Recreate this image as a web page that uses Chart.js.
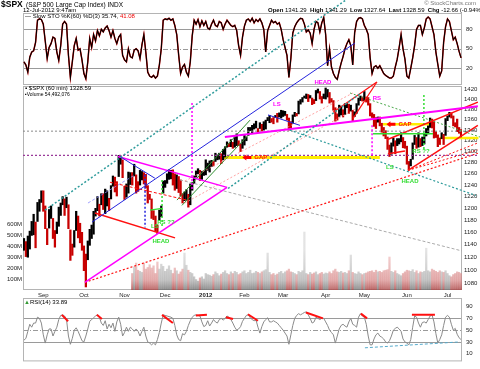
<!DOCTYPE html>
<html>
<head>
<meta charset="utf-8">
<script src="https://cdn.jsdelivr.net/npm/chart.js@4.4.1/dist/chart.umd.min.js"></script>
<style>
  body { margin: 0; background: #fff; }
  #wrap { position: relative; width: 480px; height: 369px; overflow: hidden; font-family: "Liberation Sans", Arial, sans-serif; color: #000; }
  #wrap canvas { position: absolute; left: 0; top: 0; }
  .txt { position: absolute; white-space: nowrap; font-size: 6px; line-height: 7px; }
</style>
</head>
<body>
<div id="wrap">
  <canvas id="stoChart" width="480" height="369"></canvas>
  <canvas id="rsiChart" width="480" height="369"></canvas>
  <canvas id="priceChart" width="480" height="369"></canvas>

  <div class="txt" style="left:1px;top:-1px;font-size:8.5px;line-height:10px;font-weight:bold">$SPX</div>
  <div class="txt" style="left:26px;top:1px;font-size:6.5px">(S&amp;P 500 Large Cap Index) INDX</div>
  <div class="txt" style="left:23px;top:7px">12-Jul-2012 9:47am</div>
  <div class="txt" style="left:268px;top:7px"><b>Open</b> 1341.29 &nbsp;<b>High</b> 1341.29 &nbsp;<b>Low</b> 1327.64 &nbsp;<b>Last</b> 1328.59 &nbsp;<b>Chg</b> -12.66 (-0.94%) <span style="color:#d00">&#9662;</span></div>
  <div class="txt" style="right:4px;top:0px;color:#777">&copy; StockCharts.com</div>
  <div class="txt" style="left:25px;top:13px">&#8212; Slow STO %K(60) %D(3) 35.74, <span style="color:#e00">41.08</span></div>
  <div class="txt" style="left:25px;top:85px">&#9642; $SPX (60 min) 1328.59</div>
  <div class="txt" style="left:25px;top:91px;font-size:5px">&#9642;Volume 54,492,076</div>
  <div class="txt" style="left:24px;top:299px"><span style="color:#393">&#9650;</span>RSI(14) 33.89</div>
</div>

<script>
const FONT = '"Liberation Sans", Arial, sans-serif';

// one entry per trading day, 18-Aug-2011 .. 12-Jul-2012
const dayLow = [
  1131,1121,1120,1133,1155,1156,1135,1178,1195,1210,
  1195,1166,1140,1167,1183,1150,1136,1158,1170,1188,
  1206,1188,1201,1166,1115,1123,1136,1163,1151,1143,
  1131,1099,1074,1116,1139,1150,1157,1187,1196,1187,
  1206,1198,1191,1204,1196,1216,1238,1228,1221,1255,
  1277,1253,1215,1219,1226,1241,1240,1256,1226,1229,
  1240,1249,1242,1235,1209,1215,1183,1181,1161,1158,
  1180,1186,1226,1236,1243,1250,1251,1240,1231,1234,
  1227,1221,1209,1213,1215,1202,1206,1231,1243,1254,
  1260,1248,1250,1257,1258,1266,1263,1273,1274,1282,
  1285,1286,1278,1285,1290,1308,1309,1309,1306,1308,
  1311,1311,1300,1306,1312,1320,1330,1339,1335,1342,
  1344,1336,1343,1338,1340,1342,1358,1354,1355,1352,
  1364,1355,1365,1363,1366,1368,1359,1340,1344,1353,
  1366,1367,1371,1390,1394,1402,1401,1395,1402,1389,
  1391,1397,1412,1400,1392,1401,1400,1404,1392,1394,
  1378,1357,1359,1366,1369,1365,1370,1383,1372,1376,
  1358,1366,1372,1388,1397,1396,1397,1394,1388,1367,
  1364,1347,1343,1355,1348,1336,1329,1324,1304,1291,
  1295,1310,1296,1311,1314,1318,1307,1306,1277,1267,
  1274,1286,1313,1306,1308,1309,1311,1314,1329,1333,
  1345,1344,1325,1326,1309,1313,1324,1313,1330,1358,
  1365,1363,1348,1346,1337,1334,1327
];
const dayHigh = [
  1150,1145,1154,1162,1178,1190,1177,1210,1215,1230,
  1230,1204,1166,1198,1204,1183,1163,1177,1202,1209,
  1220,1216,1219,1206,1164,1141,1163,1195,1187,1175,
  1160,1138,1125,1146,1165,1172,1195,1200,1220,1207,
  1225,1225,1233,1230,1217,1239,1256,1254,1246,1293,
  1292,1285,1238,1242,1263,1262,1262,1277,1258,1246,
  1266,1264,1262,1259,1239,1224,1216,1196,1187,1172,
  1197,1204,1247,1248,1260,1267,1266,1267,1260,1258,
  1255,1249,1225,1228,1232,1224,1242,1245,1256,1265,
  1269,1266,1264,1265,1285,1279,1283,1284,1282,1297,
  1294,1297,1296,1304,1309,1318,1315,1322,1317,1328,
  1333,1320,1314,1322,1330,1327,1345,1345,1349,1352,
  1357,1343,1354,1351,1356,1359,1364,1368,1362,1364,
  1368,1372,1373,1378,1377,1376,1370,1363,1356,1369,
  1374,1372,1396,1399,1403,1406,1410,1409,1407,1402,
  1399,1417,1420,1415,1405,1410,1422,1419,1413,1401,
  1397,1383,1371,1388,1386,1379,1391,1391,1390,1388,
  1378,1375,1391,1402,1406,1404,1415,1404,1403,1391,
  1373,1370,1364,1365,1365,1353,1345,1339,1327,1312,
  1316,1325,1320,1324,1324,1335,1326,1319,1310,1282,
  1286,1316,1330,1326,1335,1324,1327,1333,1343,1348,
  1363,1361,1356,1337,1331,1325,1335,1332,1362,1367,
  1374,1373,1367,1354,1361,1345,1341
];

// volume (millions), available from trading day 56 onwards
const volumeFirstDay = 56;
const volume = [
  150,210,245,180,170,160,245,190,205,230,
  200,220,150,255,190,235,215,170,190,220,
  180,150,200,175,145,165,190,336,225,180,
  160,150,120,95,80,110,120,100,150,140,
  135,125,140,165,150,130,145,160,175,150,
  140,165,150,170,160,140,150,165,175,150,
  160,180,150,155,170,160,150,165,175,185,
  336,160,140,150,135,145,160,170,150,165,
  175,190,165,160,150,140,170,160,175,527,
  150,140,160,145,155,165,140,150,160,145,
  155,150,165,150,175,190,165,160,170,155,
  160,150,175,318,160,150,145,165,150,140,
  150,155,165,170,175,160,180,165,170,160,
  175,180,185,300,170,160,175,150,140,130,
  150,165,180,175,170,185,160,175,150,165,
  160,170,380,175,165,190,180,170,160,175,
  165,160,175,150,130,120,140,150,165,160,
  150
];

const stoK = [
  30,25,14,37,45,47,60,94,96,95,
  88,62,35,52,58,68,66,45,32,55,
  88,92,88,40,6,30,55,66,48,50,
  33,12,4,30,66,52,72,62,78,70,
  80,76,82,85,78,68,78,66,58,68,
  72,40,33,30,50,38,36,48,50,47,
  35,56,72,45,14,8,6,9,5,8,
  25,50,94,96,95,97,94,96,86,72,
  40,12,22,26,14,8,30,70,94,88,
  95,84,93,86,92,82,80,88,94,86,
  84,92,90,80,88,94,90,86,84,86,
  78,55,40,68,85,94,96,92,97,90,
  95,92,96,90,80,45,78,86,94,90,
  92,88,90,80,64,52,40,6,35,74,
  84,90,94,97,96,88,76,79,74,58,
  80,92,90,76,90,98,72,24,50,22,
  12,6,3,16,28,38,50,58,64,55,
  25,75,92,97,98,96,86,80,72,36,
  12,22,24,20,24,18,12,9,7,5,
  5,8,22,34,52,72,50,34,8,5,
  20,36,55,80,86,86,72,82,96,99,
  96,84,72,45,26,8,16,60,84,96,
  92,78,64,68,58,46,36
];

const rsi = [
  33,36,48,60,55,62,62,72,70,62,
  42,28,42,52,52,40,48,55,68,75,
  76,74,68,40,26,36,50,54,48,40,
  32,30,40,52,65,68,71,74,76,72,
  62,58,66,52,60,54,62,48,64,72,
  60,40,46,55,48,55,52,48,52,48,
  40,48,55,40,30,28,25,28,25,34,
  46,62,76,75,74,73,72,70,58,42,
  34,32,44,42,48,58,66,72,75,76,
  75,74,64,56,58,66,57,62,68,64,
  62,68,70,67,70,74,72,68,62,55,
  50,52,56,65,70,75,76,71,68,66,
  67,55,45,56,64,68,71,64,64,66,
  64,62,58,54,50,45,40,26,42,58,
  70,75,78,76,78,80,81,76,70,62,
  64,72,70,68,70,70,64,58,50,46,
  42,28,40,52,58,60,57,55,64,70,
  60,58,55,72,78,74,72,60,40,25,
  25,35,42,45,40,38,35,30,28,32,
  40,50,53,55,52,48,35,30,28,25,
  34,55,74,72,62,55,63,64,62,68,
  74,76,64,44,28,34,42,58,72,75,
  72,60,50,53,43,37,34
];

const monthLabels = ['Sep', 'Oct', 'Nov', 'Dec', '2012', 'Feb', 'Mar', 'Apr', 'May', 'Jun', 'Jul'];
const monthStartDay = [10, 31, 52, 73, 94, 114, 134, 156, 176, 198, 219];
const priceTicks = [1080,1100,1120,1140,1160,1180,1200,1220,1240,1260,1280,1300,1320,1340,1360,1380,1400,1420];
const volumeTicks = [100, 200, 300, 400, 500, 600];
const stoTicks = [20, 50, 80];
const rsiTicks = [10, 30, 50, 70, 90];

// hand-drawn trend lines on the price panel: [startDay, startPrice, endDay, endPrice]
const TEAL = '#2f9c9c', BLUE = '#2424dd', MAG = '#ff00ff', RED = '#ff1010', GRN = '#2f8f2f', LGRN = '#33dd33';
const trendLines = [
  { pts: [10.9, 1197, 166.5, 1610], color: TEAL, dash: [2, 2], width: 1.5 },
  { pts: [105.5, 1234, 173.7, 1410], color: TEAL, dash: [2, 2], width: 1.5 },
  { pts: [137.5, 1340, 233.7, 1222], color: TEAL, dash: [2, 2], width: 1.2 },
  { pts: [35.2, 1177, 171.1, 1515], color: BLUE, width: 1 },
  { pts: [49.6, 1291, 67.7, 1252], color: BLUE, width: 1 },
  { pts: [62.6, 1258, 62.6, 1168], color: BLUE, dash: [2, 2], width: 1.5 },
  { pts: [33.1, 1209, 57.4, 1258], color: '#8888ff', dash: [3, 2], width: 0.8 },
  { pts: [126.2, 1369, 142.7, 1349], color: BLUE, width: 1 },
  { pts: [48.6, 1291, 105, 1236], color: MAG, width: 1.5 },
  { pts: [31.5, 1081, 105, 1236], color: MAG, width: 1.5 },
  { pts: [103.9, 1327, 234.7, 1386], color: MAG, width: 2 },
  { pts: [86.9, 1392, 86.9, 1231], color: MAG, dash: [2, 2], width: 1.5 },
  { pts: [180, 1349, 180, 1292], color: MAG, dash: [2, 2], width: 1.5 },
  { pts: [100, 1289, 184, 1289], color: '#ffee00', width: 3, under: true },
  { pts: [185.6, 1351, 211, 1351], color: '#ffee00', width: 2.5, under: true },
  { pts: [215, 1325, 235, 1325], color: '#ffee00', width: 2.5, under: true },
  { pts: [-0.5, 1293, 235, 1293], color: '#9a3a9a', dash: [2, 2], width: 1.2 },
  { pts: [-0.5, 1338, 235, 1338], color: '#8a8a8a', dash: [2, 2], width: 1 },
  { pts: [180.5, 1333, 211.5, 1333], color: LGRN, width: 1.5 },
  { pts: [36.7, 1192, 78.1, 1151], color: RED, width: 1.5 },
  { pts: [44.5, 1245, 84.3, 1214], color: RED, dash: [3, 2], width: 1 },
  { pts: [31.5, 1081, 234.7, 1297], color: RED, dash: [2, 2], width: 1.2 },
  { pts: [83.2, 1247, 170.1, 1412], color: '#ff8c8c', dash: [2, 2], width: 0.8 },
  { pts: [83.2, 1209, 171.1, 1380], color: '#ff8c8c', dash: [2, 2], width: 0.8 },
  { pts: [187.7, 1322, 234.7, 1394], color: RED, width: 1.5 },
  { pts: [198.6, 1266, 234.7, 1349], color: RED, width: 1.5 },
  { pts: [188.2, 1296, 197, 1301], color: RED, width: 1.5 },
  { pts: [198.6, 1266, 234.7, 1303], color: RED, dash: [2, 2], width: 1 },
  { pts: [198.6, 1266, 234.7, 1316], color: RED, dash: [2, 2], width: 1 },
  { pts: [159.8, 1374, 182.5, 1434], color: RED, width: 1.2 },
  { pts: [170.1, 1362, 182.5, 1434], color: RED, width: 1.2 },
  { pts: [79.1, 1214, 116.9, 1359], color: GRN, width: 1 },
  { pts: [81.7, 1205, 116.9, 1334], color: GRN, width: 1 },
  { pts: [71.4, 1249, 71.4, 1170], color: LGRN, dash: [2, 2], width: 1.5 },
  { pts: [65.2, 1197, 71.4, 1200], color: LGRN, width: 1.2 },
  { pts: [206.8, 1408, 206.8, 1303], color: LGRN, dash: [2, 2], width: 1.5 },
  { pts: [168.6, 1412, 235.8, 1327], color: '#4aa84a', dash: [2, 2], width: 1 },
  { pts: [80.7, 1249, 226.5, 1130], color: '#aaaaaa', dash: [3, 2], width: 1 }
];

const chartNotes = [
  { text: 'HEAD', day: 154.6, price: 1434, color: MAG },
  { text: 'LS', day: 130.8, price: 1390, color: MAG },
  { text: 'RS', day: 182.5, price: 1402, color: MAG },
  { text: 'GAP', day: 122.5, price: 1289, color: RED, arrow: true },
  { text: 'GAP', day: 197, price: 1351, color: RED, arrow: true },
  { text: 'RS ??', day: 205.3, price: 1300, color: LGRN },
  { text: 'LS', day: 189.2, price: 1271, color: LGRN },
  { text: 'HEAD', day: 199.6, price: 1247, color: LGRN },
  { text: 'RS ??', day: 73.4, price: 1177, color: LGRN },
  { text: 'LS', day: 67.7, price: 1170, color: LGRN },
  { text: 'HEAD', day: 70.8, price: 1145, color: LGRN }
];

// RSI divergence marks: [startDay, startRsi, endDay, endRsi]
const rsiMarks = [
  [19.6, 76, 22.8, 65], [37.7, 76, 40.3, 69], [71.4, 76, 77, 62], [88.9, 75, 94.6, 76],
  [104.4, 72, 108.1, 69], [115.8, 77, 121, 66], [145.8, 80, 154.6, 70], [174.2, 78, 177.4, 70],
  [200.6, 76, 212.5, 76]
];
const rsiSupport = [176.3, 20, 225.4, 30];

// --- shared helpers ---
const dayMin = -0.5, dayMax = dayLow.length - 0.5;
const downDay = dayLow.map((lo, i) => i > 0 && lo + dayHigh[i] < dayLow[i - 1] + dayHigh[i - 1]);

const panelFrame = {
  id: 'panelFrame',
  beforeDatasetsDraw(chart, args, opts) {
    const { ctx, chartArea: a } = chart;
    const y = chart.scales[opts.axis];
    ctx.save();
    ctx.lineWidth = 1;
    (opts.levels || []).forEach(l => {
      const py = Math.round(y.getPixelForValue(l.value)) + 0.5;
      ctx.strokeStyle = '#9a9a9a';
      ctx.setLineDash(l.dash || []);
      ctx.beginPath();
      ctx.moveTo(a.left, py);
      ctx.lineTo(a.right, py);
      ctx.stroke();
    });
    ctx.setLineDash([]);
    ctx.strokeStyle = '#b4b4b4';
    ctx.strokeRect(a.left + 0.5, a.top + 0.5, a.width - 1, a.height - 1);
    ctx.restore();
  }
};

const noteLabels = {
  id: 'noteLabels',
  afterDatasetsDraw(chart) {
    const { ctx, scales } = chart;
    ctx.save();
    ctx.font = 'bold 6px ' + FONT;
    ctx.textAlign = 'center';
    ctx.textBaseline = 'middle';
    chartNotes.forEach(n => {
      const x = scales.x.getPixelForValue(n.day);
      const y = scales.price.getPixelForValue(n.price);
      ctx.fillStyle = n.color;
      ctx.fillText(n.text, x, y);
      if (n.arrow) {
        const left = x - ctx.measureText(n.text).width / 2 - 3;
        ctx.fillStyle = '#ff0000';
        ctx.beginPath();
        ctx.moveTo(left - 9, y);
        ctx.lineTo(left - 5, y - 3);
        ctx.lineTo(left - 5, y - 1.5);
        ctx.lineTo(left, y - 1.5);
        ctx.lineTo(left, y + 1.5);
        ctx.lineTo(left - 5, y + 1.5);
        ctx.lineTo(left - 5, y + 3);
        ctx.closePath();
        ctx.fill();
      }
    });
    ctx.restore();
  }
};

const tickFont = { size: 6, family: FONT };
const noGrid = { display: false, drawTicks: false };
const fixedTicks = list => scale => { scale.ticks = list.map(v => ({ value: v })); };

function volumeColor(c) {
  const day = c.raw ? c.raw.x : 0;
  const { ctx, chartArea } = c.chart;
  const down = downDay[day];
  if (!chartArea) return down ? 'rgba(220,140,140,0.6)' : 'rgba(170,170,170,0.6)';
  const g = ctx.createLinearGradient(0, chartArea.bottom, 0, chartArea.bottom - 40);
  if (down) {
    g.addColorStop(0, 'rgba(170,70,70,0.8)');
    g.addColorStop(0.25, 'rgba(210,120,120,0.6)');
    g.addColorStop(1, 'rgba(240,180,180,0.55)');
  } else {
    g.addColorStop(0, 'rgba(110,110,110,0.75)');
    g.addColorStop(0.25, 'rgba(160,160,160,0.6)');
    g.addColorStop(1, 'rgba(205,205,205,0.55)');
  }
  return g;
}

// --- Slow stochastic panel ---
new Chart(document.getElementById('stoChart'), {
  type: 'line',
  data: {
    datasets: [
      { data: stoK.map((v, i) => ({ x: i, y: v })), borderColor: '#000', borderWidth: 1.1, pointRadius: 0, order: 1 },
      { data: stoK.map((v, i) => ({ x: i, y: v })), borderColor: '#dd0000', borderWidth: 1.5, pointRadius: 0, order: 2 }
    ]
  },
  options: {
    responsive: false, animation: false, events: [],
    layout: { padding: { left: 23, right: 0, top: 13, bottom: 284 } },
    plugins: {
      legend: { display: false }, tooltip: { enabled: false },
      panelFrame: { axis: 'y', levels: [{ value: 80 }, { value: 50, dash: [5, 2, 1, 2] }, { value: 20 }] }
    },
    scales: {
      x: { type: 'linear', min: dayMin, max: dayMax, display: false },
      y: {
        position: 'right', min: -5.7, max: 105.1,
        grid: noGrid, border: { display: false },
        afterBuildTicks: fixedTicks(stoTicks), afterFit: s => { s.width = 18; },
        ticks: { padding: 4, color: '#222', font: tickFont }
      }
    }
  },
  plugins: [panelFrame]
});

// --- RSI panel ---
new Chart(document.getElementById('rsiChart'), {
  type: 'line',
  data: {
    datasets: [
      { data: rsi.map((v, i) => ({ x: i, y: v })), borderColor: '#8a8a8a', borderWidth: 1, pointRadius: 0, order: 3 },
      ...rsiMarks.map(m => ({
        data: [{ x: m[0], y: m[1] }, { x: m[2], y: m[3] }],
        borderColor: '#ff1010', borderWidth: 2, pointRadius: 0, order: 1
      })),
      {
        data: [{ x: rsiSupport[0], y: rsiSupport[1] }, { x: rsiSupport[2], y: rsiSupport[3] }],
        borderColor: '#55aacc', borderWidth: 1, borderDash: [3, 2], pointRadius: 0, order: 1
      }
    ]
  },
  options: {
    responsive: false, animation: false, events: [],
    layout: { padding: { left: 23, right: 0, top: 298, bottom: 1 } },
    plugins: {
      legend: { display: false }, tooltip: { enabled: false },
      panelFrame: { axis: 'y', levels: [{ value: 70 }, { value: 50, dash: [5, 2, 1, 2] }, { value: 30 }] }
    },
    scales: {
      x: { type: 'linear', min: dayMin, max: dayMax, display: false },
      y: {
        position: 'right', min: -3.1, max: 104.6,
        grid: noGrid, border: { display: false },
        afterBuildTicks: fixedTicks(rsiTicks), afterFit: s => { s.width = 18; },
        ticks: { padding: 4, color: '#222', font: tickFont }
      }
    }
  },
  plugins: [panelFrame]
});

// --- price + volume panel ---
new Chart(document.getElementById('priceChart'), {
  type: 'bar',
  data: {
    datasets: [
      {
        data: volume.map((v, i) => ({ x: i + volumeFirstDay, y: v })),
        yAxisID: 'vol', backgroundColor: volumeColor, barThickness: 1.6, grouped: false, order: 10
      },
      {
        data: dayLow.map((lo, i) => ({ x: i, y: [lo, dayHigh[i]] })),
        yAxisID: 'price', backgroundColor: downDay.map(d => d ? '#c80000' : '#000'),
        barThickness: 1.6, grouped: false, order: 5
      },
      ...trendLines.map(t => ({
        type: 'line',
        data: [{ x: t.pts[0], y: t.pts[1] }, { x: t.pts[2], y: t.pts[3] }],
        yAxisID: 'price', borderColor: t.color, borderWidth: t.width, borderDash: t.dash || [],
        pointRadius: 0, clip: false, order: t.under ? 6 : 1
      }))
    ]
  },
  options: {
    responsive: false, animation: false, events: [],
    layout: { padding: { left: 0, right: 0, top: 86, bottom: 69 } },
    plugins: {
      legend: { display: false }, tooltip: { enabled: false },
      panelFrame: { axis: 'price', levels: [] }
    },
    scales: {
      x: {
        type: 'linear', min: dayMin, max: dayMax, offset: false,
        grid: noGrid, border: { display: false },
        afterBuildTicks: fixedTicks(monthStartDay), afterFit: s => { s.height = 10; },
        ticks: {
          autoSkip: false, maxRotation: 0, padding: 2, color: '#222',
          font: c => ({ size: 6, family: FONT, weight: c.tick && monthLabels[monthStartDay.indexOf(c.tick.value)] === '2012' ? 'bold' : 'normal' }),
          callback: v => monthLabels[monthStartDay.indexOf(v)]
        }
      },
      price: {
        type: 'logarithmic', position: 'right', min: 1069.4, max: 1426,
        grid: noGrid, border: { display: false },
        afterBuildTicks: fixedTicks(priceTicks), afterFit: s => { s.width = 18; },
        ticks: { padding: 2, color: '#222', font: tickFont, callback: v => String(v) }
      },
      vol: {
        type: 'linear', position: 'left', min: 0, max: 1855,
        grid: noGrid, border: { display: false },
        afterBuildTicks: fixedTicks(volumeTicks), afterFit: s => { s.width = 23; },
        ticks: { padding: 1, color: '#222', font: tickFont, callback: v => v + 'M' }
      }
    }
  },
  plugins: [panelFrame, noteLabels]
});
</script>
</body>
</html>
